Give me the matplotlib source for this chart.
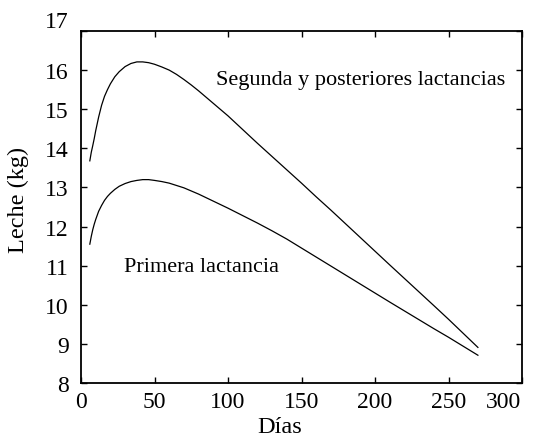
import matplotlib
matplotlib.use("Agg")
import matplotlib.pyplot as plt
from matplotlib.transforms import ScaledTranslation

days = [6, 7, 8, 9, 10, 12, 14, 16, 18, 20, 23, 26, 30, 34, 38, 42, 46, 50,
        55, 60, 65, 70, 75, 80, 90, 100, 110, 120, 130, 140, 150, 160, 170,
        180, 190, 200, 210, 225, 240, 250, 260, 270]
segunda = [13.68, 13.90, 14.07, 14.25, 14.45, 14.80, 15.10, 15.33, 15.50,
           15.65, 15.83, 15.96, 16.09, 16.17, 16.21, 16.21, 16.19, 16.15,
           16.08, 16.00, 15.89, 15.76, 15.62, 15.47, 15.15, 14.83, 14.48,
           14.13, 13.79, 13.45, 13.11, 12.76, 12.42, 12.07, 11.72, 11.37,
           11.02, 10.50, 9.98, 9.63, 9.27, 8.91]
primera = [11.55, 11.75, 11.92, 12.06, 12.18, 12.39, 12.54, 12.67, 12.77,
           12.85, 12.95, 13.03, 13.10, 13.15, 13.18, 13.20, 13.20, 13.18,
           13.15, 13.11, 13.05, 12.99, 12.91, 12.83, 12.65, 12.47, 12.28,
           12.09, 11.89, 11.68, 11.45, 11.22, 10.99, 10.76, 10.53, 10.30,
           10.07, 9.73, 9.39, 9.17, 8.94, 8.71]
xticks = [0, 50, 100, 150, 200, 250, 300]
yticks = [8, 9, 10, 11, 12, 13, 14, 15, 16, 17]
label_segunda = "Segunda y posteriores lactancias"
label_primera = "Primera lactancia"

plt.rcParams['font.family'] = ['Liberation Serif', 'DejaVu Serif']

fig = plt.figure(figsize=(5.34, 4.39), dpi=100)
ax = fig.add_axes([81/534, 1-384/439, 441/534, 352/439])

ax.plot(days, segunda, color='black', lw=0.9)
ax.plot(days, primera, color='black', lw=0.9)

ax.set_xlim(0, 300)
ax.set_ylim(8, 17)
ax.set_xticks(xticks)
ax.set_yticks(yticks)
ax.tick_params(direction='in', length=4, width=1, top=True, right=True,
               labelsize=17, colors='black')
ax.tick_params(axis='x', pad=6)
ax.tick_params(axis='y', pad=9)
for s in ax.spines.values():
    s.set_linewidth(1.3)

# label offsets as in the reference
for lab in ax.get_yticklabels():
    if lab.get_text() == '17':
        lab.set_transform(lab.get_transform() + ScaledTranslation(0, 12/100, fig.dpi_scale_trans))
for lab in ax.get_xticklabels():
    if lab.get_text() == '300':
        lab.set_transform(lab.get_transform() + ScaledTranslation(-19/100, 0, fig.dpi_scale_trans))

ax.set_xlabel("Días", fontsize=17.5)
ax.xaxis.set_label_coords((280-81)/441, (384-428)/352)
ax.xaxis.label.set_va('center')
ax.set_ylabel("Leche (kg)", fontsize=17.5)
ax.yaxis.set_label_coords((18-81)/441, (384-200)/352)
ax.yaxis.label.set_va('center')

ax.text((216-81)/441, (384-80)/352, label_segunda, transform=ax.transAxes,
        fontsize=16, ha='left', va='center')
ax.text((124-81)/441, (384-267.7)/352, label_primera, transform=ax.transAxes,
        fontsize=16, ha='left', va='center')

fig.savefig("out.png", dpi=100)
